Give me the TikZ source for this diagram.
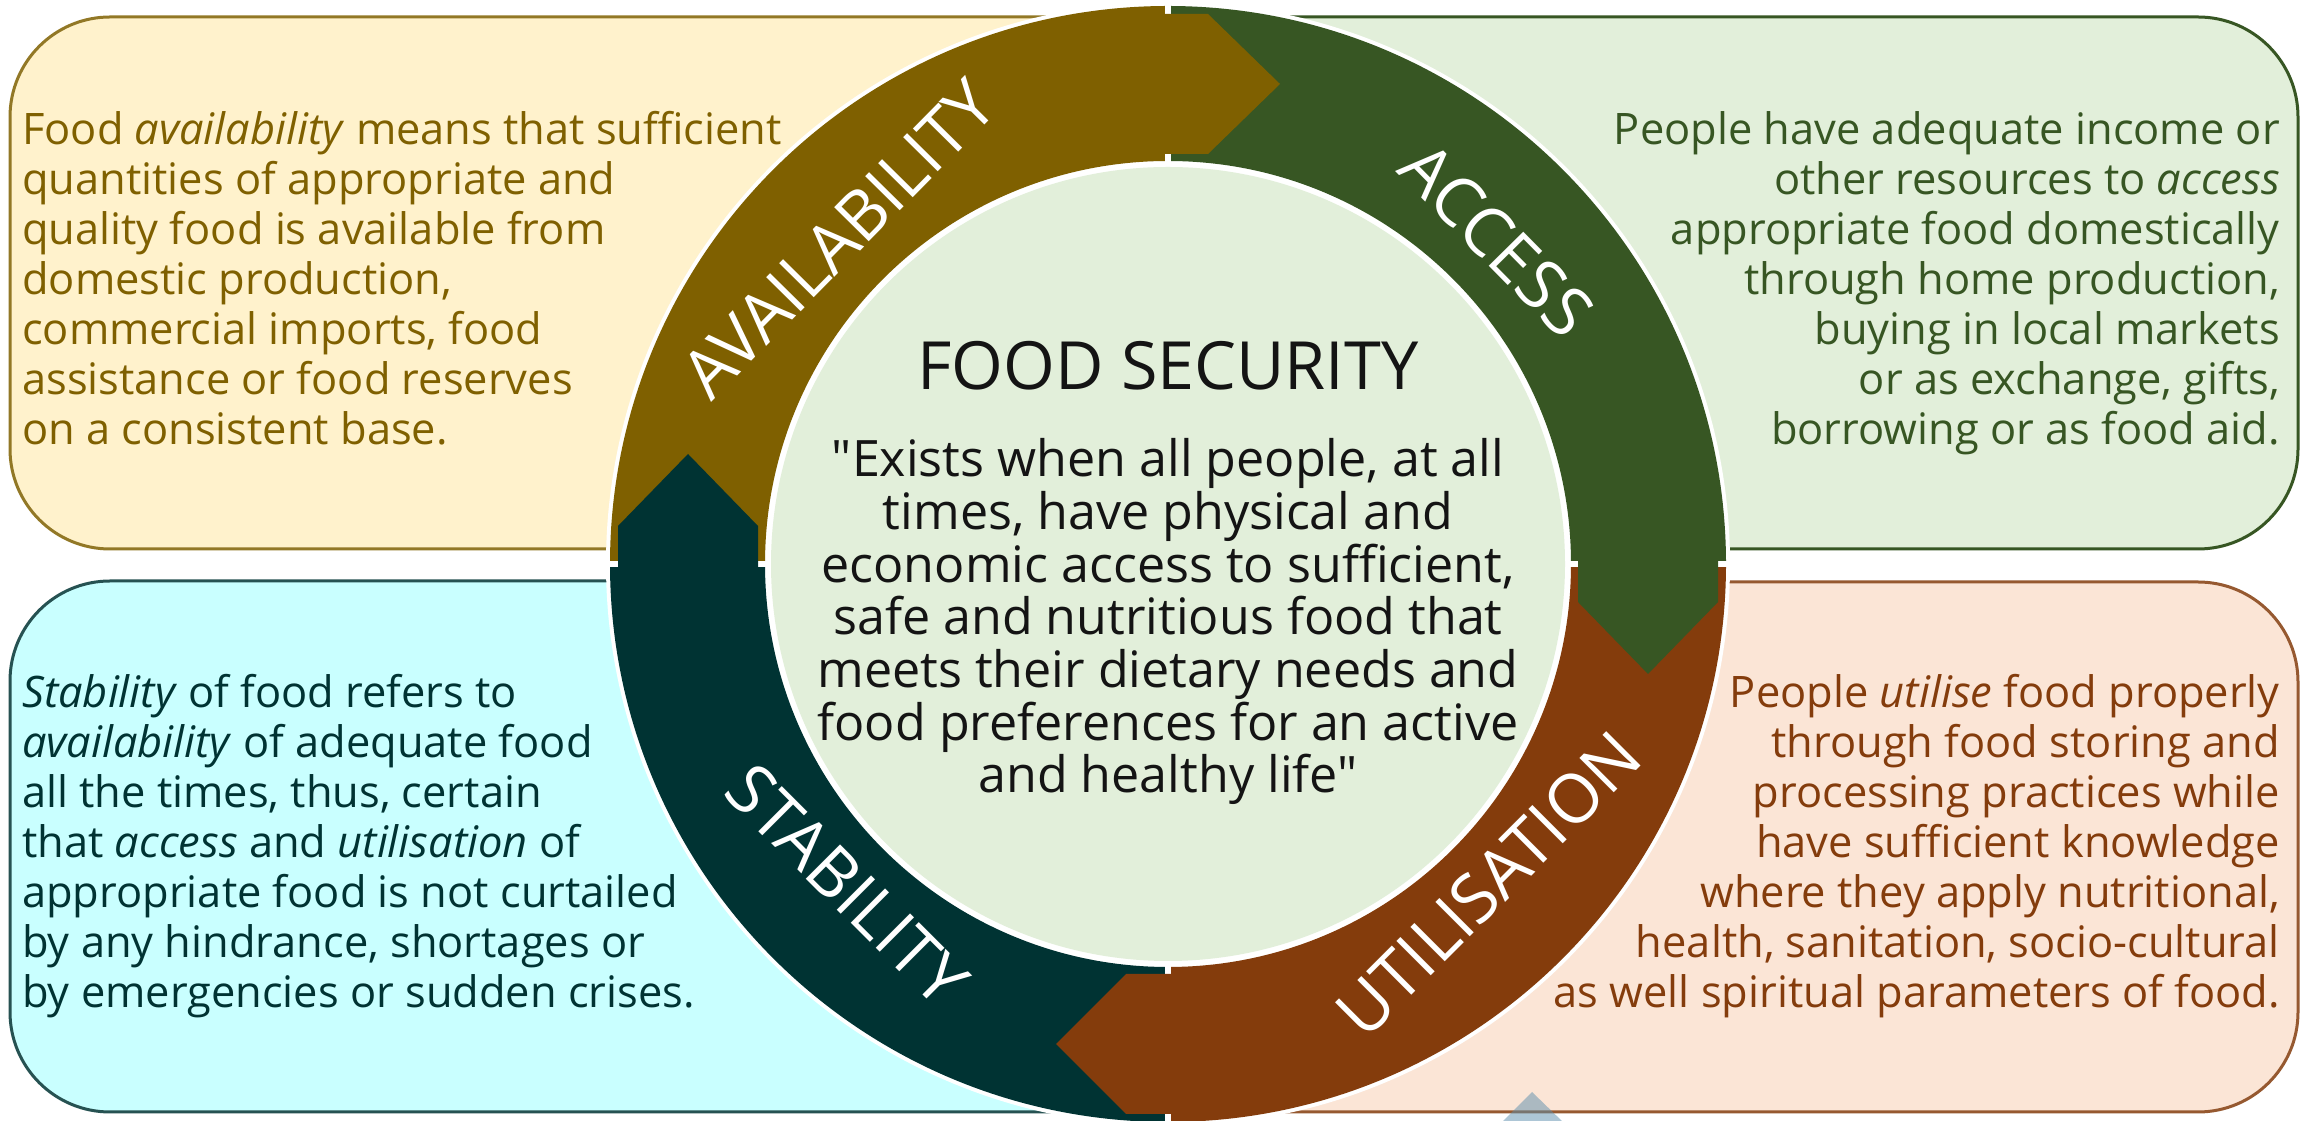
\documentclass[tikz,border=0pt]{standalone}
\usepackage{fontspec}
\setmainfont{Open Sans}
\newfontfamily\quotefont{Open Sans}
\usetikzlibrary{calc}
\definecolor{availC}{HTML}{7F6000}
\definecolor{accessC}{HTML}{375623}
\definecolor{utilC}{HTML}{843C0C}
\definecolor{stabC}{HTML}{003333}
\definecolor{innerC}{HTML}{E2EFDA}
\definecolor{yellowBox}{HTML}{FFF2CC}
\definecolor{greenBox}{HTML}{E2EFDA}
\definecolor{cyanBox}{HTML}{C9FFFF}
\definecolor{peachBox}{HTML}{FBE5D6}
\definecolor{triC}{HTML}{5C8FAE}
\begin{document}
\begin{tikzpicture}[x=1pt,y=1pt,
  infobox/.style={line width=3pt, rounded corners=100pt},
  boxtext/.style={inner sep=0pt, font=\fontsize{43.4}{50}\selectfont},
  ringlabel/.style={inner sep=0pt, text=white, font=\fontsize{68}{70}\selectfont},
  quotetext/.style={inner sep=0pt, text=black!92, font=\quotefont\fontsize{50.2}{52.7}\selectfont},
  titletext/.style={inner sep=0pt, text=black!92, font=\fontsize{66.5}{70}\selectfont},
  gapline/.style={white, line width=6pt}
]
\useasboundingbox (0,0) rectangle (2308,1121);
\clip (0,0) rectangle (2308,1121);
\fill[white] (0,0) rectangle (2308,1121);
\coordinate (C) at (1168,557);

% information boxes
\filldraw[infobox, fill=yellowBox, draw=availC!85] (10,572) rectangle (1164,1104);
\filldraw[infobox, fill=greenBox, draw=accessC] (1172,572) rectangle (2298,1104);
\filldraw[infobox, fill=cyanBox, draw=stabC!85] (10,9) rectangle (1164,540);
\filldraw[infobox, fill=peachBox, draw=utilC!85] (1172,9) rectangle (2298,539);

% (base anchor = baseline of the last line)
\node[boxtext, text=availC, anchor=base west, align=left] (availtext) at (22,676)
{Food \textit{availability} means that sufficient\\
quantities of appropriate and\\
quality food is available from\\
domestic production,\\
commercial imports, food\\
assistance or food reserves\\
on a consistent base.};

\node[boxtext, text=accessC, anchor=base east, align=right] (accesstext) at (2280,676)
{People have adequate income or\\
other resources to \textit{access}\\
appropriate food domestically\\
through home production,\\
buying in local markets\\
or as exchange, gifts,\\
borrowing or as food aid.};

\node[boxtext, text=stabC, anchor=base west, align=left] (stabtext) at (22,113)
{\textit{Stability} of food refers to\\
\textit{availability} of adequate food\\
all the times, thus, certain\\
that \textit{access} and \textit{utilisation} of\\
appropriate food is not curtailed\\
by any hindrance, shortages or\\
by emergencies or sudden crises.};

\node[boxtext, text=utilC, anchor=base east, align=right] (utiltext) at (2280,113)
{People \textit{utilise} food properly\\
through food storing and\\
processing practices while\\
have sufficient knowledge\\
where they apply nutritional,\\
health, sanitation, socio-cultural\\
as well spiritual parameters of food.};

% faint triangle at bottom
\fill[triC, opacity=0.5] (1532,29) -- (1500,-3) -- (1565,-3) -- cycle;

% ring
\fill[white] (C) circle (562);
\fill[availC] ($(C)+(180:558)$) arc[start angle=180, end angle=90, radius=558] -- ($(C)+(90:403)$) arc[start angle=90, end angle=180, radius=403] -- cycle;
\fill[accessC] ($(C)+(90:558)$) arc[start angle=90, end angle=0, radius=558] -- ($(C)+(0:403)$) arc[start angle=0, end angle=90, radius=403] -- cycle;
\fill[utilC] ($(C)+(0:558)$) arc[start angle=0, end angle=-90, radius=558] -- ($(C)+(-90:403)$) arc[start angle=-90, end angle=0, radius=403] -- cycle;
\fill[stabC] ($(C)+(-90:558)$) arc[start angle=-90, end angle=-180, radius=558] -- ($(C)+(-180:403)$) arc[start angle=-180, end angle=-90, radius=403] -- cycle;

\draw[gapline] ($(C)+(0,398)$) -- ($(C)+(0,566)$);
\draw[gapline] ($(C)+(0,-398)$) -- ($(C)+(0,-566)$);
\draw[gapline] ($(C)+(398,0)$) -- ($(C)+(566,0)$);
\draw[gapline] ($(C)+(-398,0)$) -- ($(C)+(-566,0)$);

% arrow heads
\fill[availC] ($(C)+(-4,550)$) -- ($(C)+(40,550)$) -- ($(C)+(112,480)$) -- ($(C)+(40,410)$) -- ($(C)+(-4,410)$) -- cycle;
\fill[accessC] ($(C)+(550,4)$) -- ($(C)+(550,-38)$) -- ($(C)+(480,-110)$) -- ($(C)+(410,-38)$) -- ($(C)+(410,4)$) -- cycle;
\fill[utilC] ($(C)+(4,-550)$) -- ($(C)+(-42,-550)$) -- ($(C)+(-112,-480)$) -- ($(C)+(-42,-410)$) -- ($(C)+(4,-410)$) -- cycle;
\fill[stabC] ($(C)+(-550,-4)$) -- ($(C)+(-550,38)$) -- ($(C)+(-480,110)$) -- ($(C)+(-410,38)$) -- ($(C)+(-410,-4)$) -- cycle;

% inner circle
\fill[innerC] (C) circle (397);

% ring labels
\node[ringlabel, rotate=45.4] (lblavail) at ($(C)+(135.4:463)$) {AVAILABILITY};
\node[ringlabel, rotate=-45.4] (lblaccess) at ($(C)+(44.6:462)$) {ACCESS};
\node[ringlabel, rotate=45] (lblutil) at ($(C)+(-45:453)$) {UTILISATION};
\node[ringlabel, rotate=-45] (lblstab) at ($(C)+(225:454)$) {STABILITY};

% centre text
\node[titletext, anchor=base] (title) at (1168,731) {FOOD SECURITY};
\node[quotetext, anchor=base, align=center] (quote) at (1168,328)
{"Exists when all people, at all\\
times, have physical and\\
economic access to sufficient,\\
safe and nutritious food that\\
meets their dietary needs and\\
food preferences for an active\\
and healthy life"};
\end{tikzpicture}
\end{document}
